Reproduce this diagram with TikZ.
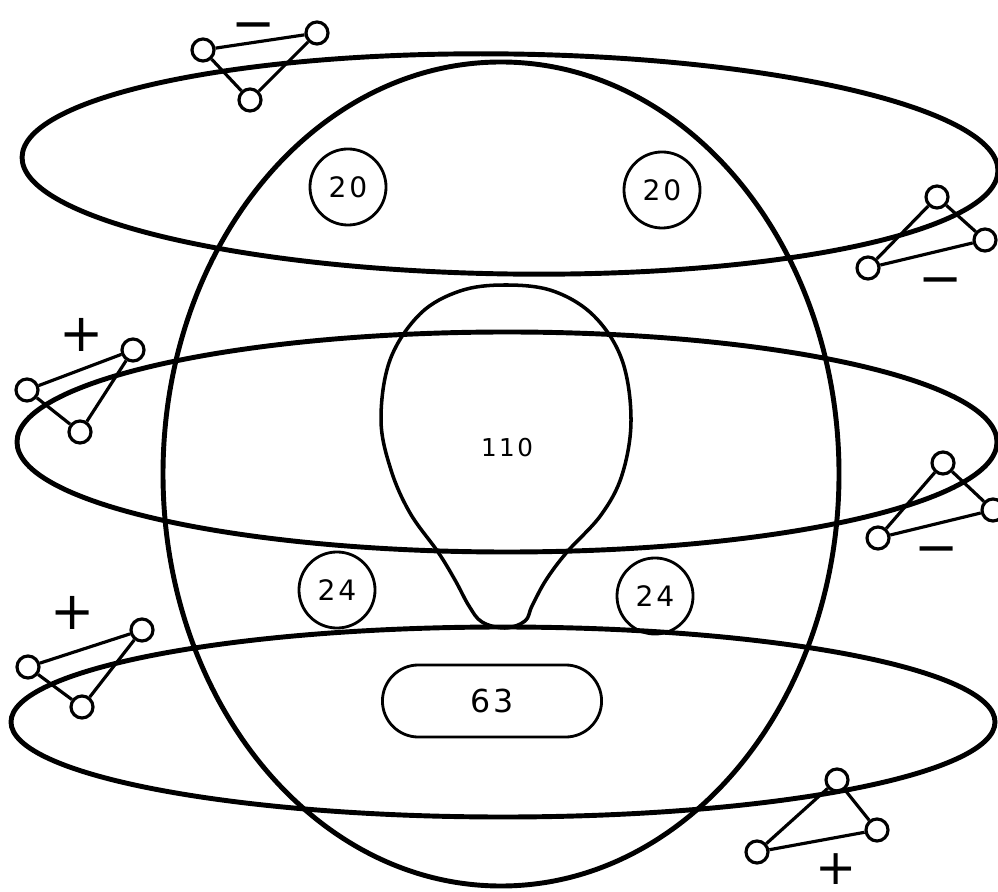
\documentclass[tikz,border=0pt]{standalone}
\usepackage{fontspec}
\newfontfamily\lab[LetterSpace=10]{DejaVu Sans}
\newfontfamily\sym{DejaVu Sans}
\tikzset{
  ell/.style={line width=1.4pt},
  blob/.style={line width=1.0pt},
  vtx/.style={circle,draw,line width=0.9pt,minimum size=0.22cm,inner sep=0pt},
  tedge/.style={line width=0.9pt},
  num/.style={circle,draw,line width=0.8pt,minimum size=0.76cm,inner sep=0pt,font=\lab\fontsize{8}{9}\selectfont},
  pm/.style={inner sep=0pt,font=\sym\fontsize{15}{15}\selectfont},
}
\begin{document}
\begin{tikzpicture}[x=0.01cm,y=-0.01cm]
\path[use as bounding box] (0,0) rectangle (998,892);
% big vertical ellipse
\draw[ell] (501,474) ellipse [x radius=338, y radius=412];
% horizontal ellipses
\draw[ell,rotate around={-0.8:(510,164)}] (510,164) ellipse [x radius=488, y radius=110];
\draw[ell] (507,442) ellipse [x radius=490, y radius=110];
\draw[ell] (503,722) ellipse [x radius=492, y radius=95];
% teardrop
\draw[blob] plot[smooth cycle, tension=0.6] coordinates {
 (505,628) (482,622) (469,606) (455,580) (438,552) (410,513) (391,470)
 (381,420) (390,360) (420,314) (460,291) (505,285) (553,291) (594,316)
 (622,360) (631,420) (622,475) (601,515) (567,552) (546,580) (532,606) (525,621)};
\node[font=\lab\fontsize{7}{8}\selectfont] (n110) at (507,448) {110};
% numbered circles
\node[num] (c20a) at (348,187) {20};
\node[num] (c20b) at (662,190) {20};
\node[num] (c24a) at (337,590) {24};
\node[num] (c24b) at (655,596) {24};
\node[draw,line width=0.8pt,rounded corners=0.36cm,minimum width=2.19cm,minimum height=0.72cm,inner sep=0pt,font=\lab\fontsize{9}{10}\selectfont] (r63) at (492,701) {63};
% triangles
\foreach \t/\ax/\ay/\bx/\by/\cx/\cy in {
  A/203/50/317/33/250/100,
  B/937/197/985/240/868/268,
  C/27/390/133/350/80/432,
  D/943/463/993/510/878/538,
  E/28/667/142/630/82/707,
  F/837/780/877/830/757/852}{
  \node[vtx] (\t1) at (\ax,\ay) {};
  \node[vtx] (\t2) at (\bx,\by) {};
  \node[vtx] (\t3) at (\cx,\cy) {};
  \draw[tedge] (\t1) -- (\t2) (\t2) -- (\t3) (\t3) -- (\t1);
}
% signs
\node[pm] (sA) at (254,32) {−};
\node[pm] (sB) at (941,287) {−};
\node[pm] (sD) at (937,556) {−};
\node[pm] (sC) at (82,335) {+};
\node[pm] (sE) at (73,613) {+};
\node[pm,font=\sym\fontsize{14}{14}\selectfont] (sF) at (836,869) {+};
\end{tikzpicture}
\end{document}
